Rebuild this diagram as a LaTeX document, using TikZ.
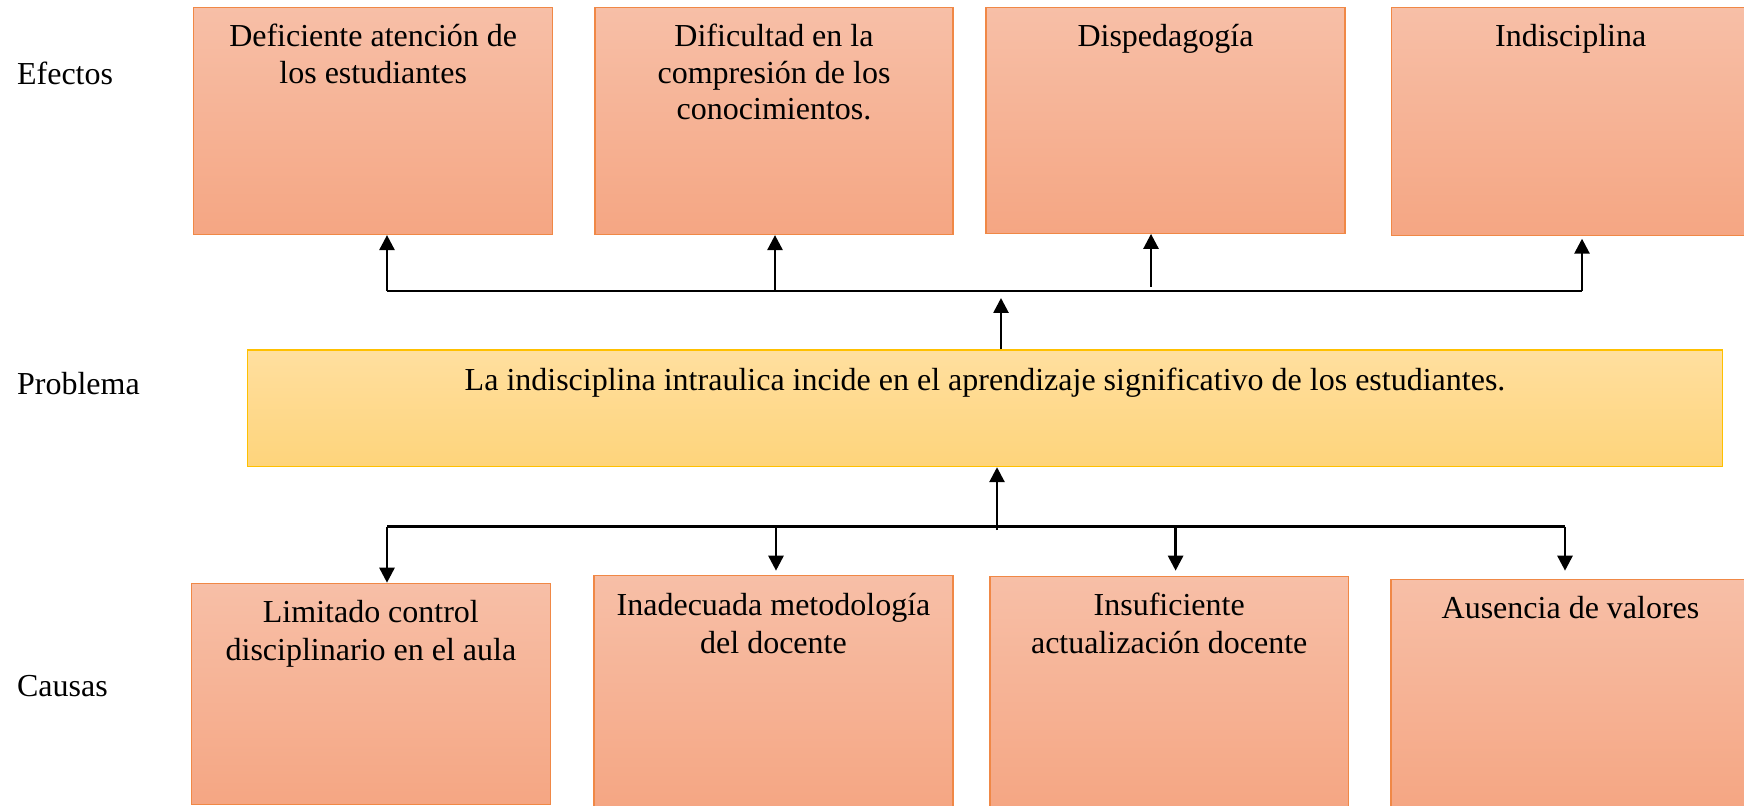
\documentclass[tikz,border=0pt]{standalone}
\usepackage{fontspec}
\setmainfont{Liberation Serif}
\usetikzlibrary{arrows.meta,calc}
\definecolor{saltop}{RGB}{247,191,167}
\definecolor{salbot}{RGB}{245,166,131}
\definecolor{salline}{RGB}{240,136,70}
\definecolor{goldtop}{RGB}{255,223,159}
\definecolor{goldbot}{RGB}{254,212,123}
\definecolor{goldline}{RGB}{255,192,0}
\tikzset{
  txt/.style={font=\fontsize{16}{18.35}\selectfont, text=black},
  salbox/.style={draw=salline, line width=0.6pt, top color=saltop, bottom color=salbot, inner sep=0pt},
  goldbox/.style={draw=goldline, line width=0.6pt, top color=goldtop, bottom color=goldbot, inner sep=0pt},
  boxtext/.style={txt, anchor=north, align=center, inner sep=0pt},
  sidelabel/.style={txt, anchor=base west, inner sep=0pt},
  conn/.style={line width=1.35pt, black},
  arr/.style={conn, -{Triangle[length=7.5pt,width=7.5pt]}},
}
\begin{document}
\begin{tikzpicture}[x=0.5pt,y=-0.5pt]
\clip (0,0) rectangle (1744,806);
\fill[white] (0,0) rectangle (1744,806);

% effect boxes
\node[salbox, minimum width=179.6pt, minimum height=113.5pt] (e1) at (373.2,121) {};
\node[salbox, minimum width=179pt, minimum height=113.5pt] (e2) at (774,121) {};
\node[salbox, minimum width=179.5pt, minimum height=112.9pt] (e3) at (1165.5,120.4) {};
\node[salbox, minimum width=179.3pt, minimum height=113.9pt] (e4) at (1570.7,121.4) {};

\node[boxtext] (te1) at ($(e1.north)+(0,13.5)$) {\strut Deficiente atención de\\los estudiantes};
\node[boxtext] (te2) at ($(e2.north)+(0,13.5)$) {\strut Dificultad en la\\compresión de los\\conocimientos.};
\node[boxtext] (te3) at ($(e3.north)+(0,13.5)$) {\strut Dispedagogía};
\node[boxtext] (te4) at ($(e4.north)+(0,13.5)$) {\strut Indisciplina};

% problem box
\node[goldbox, minimum width=737.7pt, minimum height=58.3pt] (p) at (985,408.3) {};
\node[boxtext] (tp) at ($(p.north)+(0,15)$) {\strut La indisciplina intraulica incide en el aprendizaje significativo de los estudiantes.};

% cause boxes
\node[salbox, minimum width=179.4pt, minimum height=110.4pt] (c1) at (370.9,693.7) {};
\node[salbox, minimum width=179.5pt, minimum height=116.2pt] (c2) at (773.5,692) {};
\node[salbox, minimum width=179.2pt, minimum height=115.8pt] (c3) at (1169.2,692.3) {};
\node[salbox, minimum width=179.5pt, minimum height=114.4pt] (c4) at (1570.5,693.6) {};

\node[boxtext, font=\fontsize{16}{19}\selectfont] (tc1) at ($(c1.north)+(0,13)$) {\strut Limitado control\\disciplinario en el aula};
\node[boxtext, font=\fontsize{16}{19}\selectfont] (tc2) at ($(c2.north)+(0,13)$) {\strut Inadecuada metodología\\del docente};
\node[boxtext, font=\fontsize{16}{19}\selectfont] (tc3) at ($(c3.north)+(0,13)$) {\strut Insuficiente\\actualización docente};
\node[boxtext, font=\fontsize{16}{19}\selectfont] (tc4) at ($(c4.north)+(0,13)$) {\strut Ausencia de valores};

% side labels
\node[sidelabel] (lef) at (16.7,84.3) {Efectos};
\node[sidelabel] (lpr) at (16.7,394.3) {Problema};
\node[sidelabel] (lca) at (16.7,696) {Causas};

% effect connectors
\coordinate (ta) at (387,291);
\coordinate (tb) at (775,291);
\coordinate (tc) at (1151,291);
\coordinate (td) at (1582,291);
\coordinate (tdtip) at (1582,238.7);
\coordinate (ptip) at (1001,298);
\draw[conn] (ta) -- (td);
\draw[arr] (ta) -- (ta |- e1.south);
\draw[arr] (tb) -- (tb |- e2.south);
\draw[arr] ($(tc)+(0,-4)$) -- (tc |- e3.south);
\draw[arr] (td) -- (tdtip);
\draw[arr] (p.north -| ptip) -- (ptip);

% cause connectors
\coordinate (ba) at (387,526.7);
\coordinate (bb) at (776,526.7);
\coordinate (bc) at (1175.6,526.7);
\coordinate (bd) at (1565,526.7);
\coordinate (bup) at (997,530);
\draw[conn] (ba) -- (bd);
\draw[arr] (bup) -- (bup |- p.south);
\draw[arr] (ba) -- (ba |- c1.north);
\draw[arr] (bb) -- (776,570.7);
\draw[arr] (bc) -- (1175.6,570.7);
\draw[arr] (bd) -- (1565,570.7);
\end{tikzpicture}
\end{document}
